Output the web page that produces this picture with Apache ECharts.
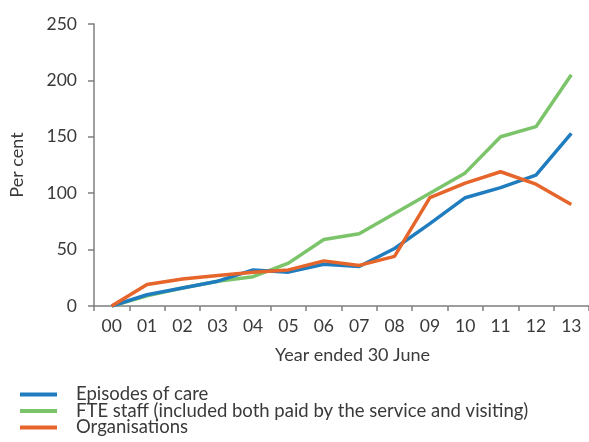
<!DOCTYPE html>
<html>
<head>
<meta charset="utf-8">
<script src="https://cdn.jsdelivr.net/npm/echarts@6/dist/echarts.min.js"></script>
<style>html,body{margin:0;padding:0;background:#fff;}#c{width:589px;height:442px;}</style>
</head>
<body>
<div id="c"></div>
<script>
const years = ['00','01','02','03','04','05','06','07','08','09','10','11','12','13'];
const episodes = [0, 10, 16, 22, 32, 30, 37, 35, 51, 73, 96, 105, 116, 153];
const fteStaff = [0, 9, 16, 22, 26, 38, 59, 64, 82, 100, 118, 150, 159, 205];
const organisations = [0, 19, 24, 27, 30, 32, 40, 36, 44, 96, 109, 119, 108, 90];
const yTicks = [0, 50, 100, 150, 200, 250];

const FONT = 'Lato';
const TXT = '#3a3a3a';
const AX = '#7f7f7f';

const chart = echarts.init(document.getElementById('c'));
chart.setOption({
  animation: false,
  backgroundColor: '#ffffff',
  textStyle: { fontFamily: FONT },
  grid: { left: 93, right: 0, top: 24, bottom: 136, containLabel: false },
  legend: {
    orient: 'vertical',
    left: 20,
    top: 385,
    padding: 0,
    itemWidth: 37,
    itemHeight: 4,
    itemGap: -2.5,
    icon: 'rect',
    data: ['Episodes of care', 'FTE staff (included both paid by the service and visiting)', 'Organisations'],
    textStyle: { fontFamily: FONT, fontSize: 18.5, color: TXT, lineHeight: 17, padding: [0, 0, 0, 14] }
  },
  xAxis: {
    type: 'category',
    data: years,
    boundaryGap: true,
    name: 'Year ended 30 June',
    nameLocation: 'middle',
    nameGap: 40,
    nameTextStyle: { fontFamily: FONT, fontSize: 18, color: TXT, padding: [0, 0, 0, 22] },
    axisLine: { lineStyle: { color: AX, width: 1.5 } },
    axisTick: { show: true, length: 5, lineStyle: { color: AX, width: 1.5 } },
    axisLabel: { fontFamily: FONT, fontSize: 17.5, color: TXT, margin: 11 },
    splitLine: { show: false }
  },
  yAxis: {
    type: 'value',
    min: yTicks[0],
    max: yTicks[yTicks.length - 1],
    interval: 50,
    name: 'Per cent',
    nameLocation: 'middle',
    nameGap: 68,
    nameRotate: 90,
    nameTextStyle: { fontFamily: FONT, fontSize: 18, color: TXT },
    axisLine: { show: true, lineStyle: { color: AX, width: 1.5 } },
    axisTick: { show: true, inside: false, length: 6, lineStyle: { color: AX, width: 1.5 } },
    axisLabel: { fontFamily: FONT, fontSize: 17.5, color: TXT, margin: 17 },
    splitLine: { show: false }
  },
  series: [
    { name: 'FTE staff (included both paid by the service and visiting)', type: 'line', data: fteStaff,
      showSymbol: false, symbol: 'none', color: '#7cc46a', lineStyle: { width: 3.5, color: '#7cc46a' } },
    { name: 'Episodes of care', type: 'line', data: episodes,
      showSymbol: false, symbol: 'none', color: '#1f7cbf', lineStyle: { width: 3.5, color: '#1f7cbf' } },
    { name: 'Organisations', type: 'line', data: organisations,
      showSymbol: false, symbol: 'none', color: '#e5652b', lineStyle: { width: 3.5, color: '#e5652b' } }
  ]
});
</script>
</body>
</html>
